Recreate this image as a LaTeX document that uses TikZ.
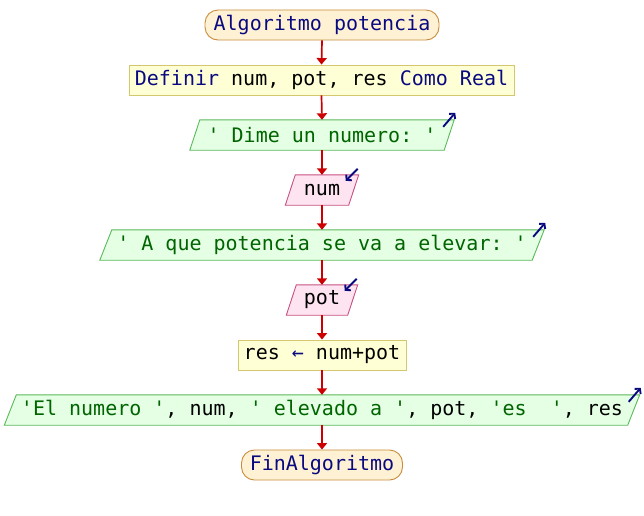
\documentclass[tikz,border=0pt]{standalone}
\usepackage{fontspec}
\setmonofont{DejaVu Sans Mono}
\usetikzlibrary{arrows.meta,calc,backgrounds}
\definecolor{kw}{RGB}{10,10,128}
\definecolor{str}{RGB}{0,100,0}
\definecolor{flowc}{RGB}{204,0,0}
\definecolor{termfill}{RGB}{255,242,212}
\definecolor{termdraw}{RGB}{200,140,60}
\definecolor{procfill}{RGB}{255,255,214}
\definecolor{procdraw}{RGB}{212,200,110}
\definecolor{outfill}{RGB}{228,255,228}
\definecolor{outdraw}{RGB}{90,185,90}
\definecolor{infill}{RGB}{253,228,240}
\definecolor{indraw}{RGB}{200,80,130}

\tikzset{
  base/.style={font=\ttfamily\fontsize{20}{24}\selectfont, inner sep=0pt,
               minimum height=30pt, anchor=center},
  term/.style={base, draw=termdraw, fill=termfill, rounded corners=13pt, line width=0.9pt},
  proc/.style={base, draw=procdraw, fill=procfill, line width=0.9pt},
  iotext/.style={base},
  flow/.style={draw=flowc, line width=1.7pt, -{Triangle[length=6.5pt,width=10pt]}},
  icon/.style={draw=kw, line width=1.9pt, -{Straight Barb[length=3.5pt,width=8pt]}},
}

% parallelogram behind a text node: #1 node, #2 outline, #3 fill, #4 half slant
\newcommand\ioshape[4]{%
  \begin{scope}[on background layer]
    \filldraw[draw=#2, fill=#3, line width=0.9pt]
      ([xshift=-#4]#1.south west) -- ([xshift=-#4]#1.south east)
      -- ([xshift=#4]#1.north east) -- ([xshift=#4]#1.north west) -- cycle;
  \end{scope}}
% output marker: arrow leaving the top right corner
\newcommand\outicon[2]{%
  \coordinate (#1-c) at ([xshift=#2]#1.north east);
  \draw[icon] ($(#1-c)+(-11,7)$) -- ($(#1-c)+(1,-7)$);}
% input marker: arrow entering the top right corner
\newcommand\inicon[2]{%
  \coordinate (#1-c) at ([xshift=#2]#1.north east);
  \draw[icon] ($(#1-c)+(-1,-6)$) -- ($(#1-c)+(-13,6)$);}

\begin{document}
\begin{tikzpicture}[x=1pt, y=-1pt]
  \useasboundingbox (0,0) rectangle (644,515);

  \node[term, minimum width=234pt] (start) at (322,25)
    {\textcolor{kw}{Algoritmo potencia}};
  \node[proc, minimum width=385pt] (def) at (321.5,80)
    {\textcolor{kw}{Definir} num, pot, res \textcolor{kw}{Como Real}};
  \node[iotext, minimum width=254pt] (out1) at (322,135)
    {\textcolor{str}{' Dime un numero: '}};
  \node[iotext, minimum width=63pt] (in1) at (322,190) {num};
  \node[iotext, minimum width=432pt] (out2) at (322,245)
    {\textcolor{str}{' A que potencia se va a elevar: '}};
  \node[iotext, minimum width=61pt] (in2) at (322,300) {pot};
  \node[proc, minimum width=168pt] (calc) at (322,355)
    {res \textcolor{kw}{←} num+pot};
  \node[iotext, minimum width=623pt] (out3) at (322,410)
    {\textcolor{str}{'El numero '}, num, \textcolor{str}{' elevado a '}, pot, \textcolor{str}{'es\ \ '}, res};
  \node[term, minimum width=161pt] (stop) at (322,465)
    {\textcolor{kw}{FinAlgoritmo}};

  \ioshape{out1}{outdraw}{outfill}{5pt}
  \ioshape{in1}{indraw}{infill}{5pt}
  \ioshape{out2}{outdraw}{outfill}{6pt}
  \ioshape{in2}{indraw}{infill}{5pt}
  \ioshape{out3}{outdraw}{outfill}{6pt}

  \outicon{out1}{5pt}
  \inicon{in1}{5pt}
  \outicon{out2}{6pt}
  \inicon{in2}{5pt}
  \outicon{out3}{6pt}

  \draw[flow] (start.south) -- (def.north);
  \draw[flow] (def.south) -- (out1.north);
  \draw[flow] (out1.south) -- (in1.north);
  \draw[flow] (in1.south) -- (out2.north);
  \draw[flow] (out2.south) -- (in2.north);
  \draw[flow] (in2.south) -- (calc.north);
  \draw[flow] (calc.south) -- (out3.north);
  \draw[flow] (out3.south) -- (stop.north);
\end{tikzpicture}
\end{document}
